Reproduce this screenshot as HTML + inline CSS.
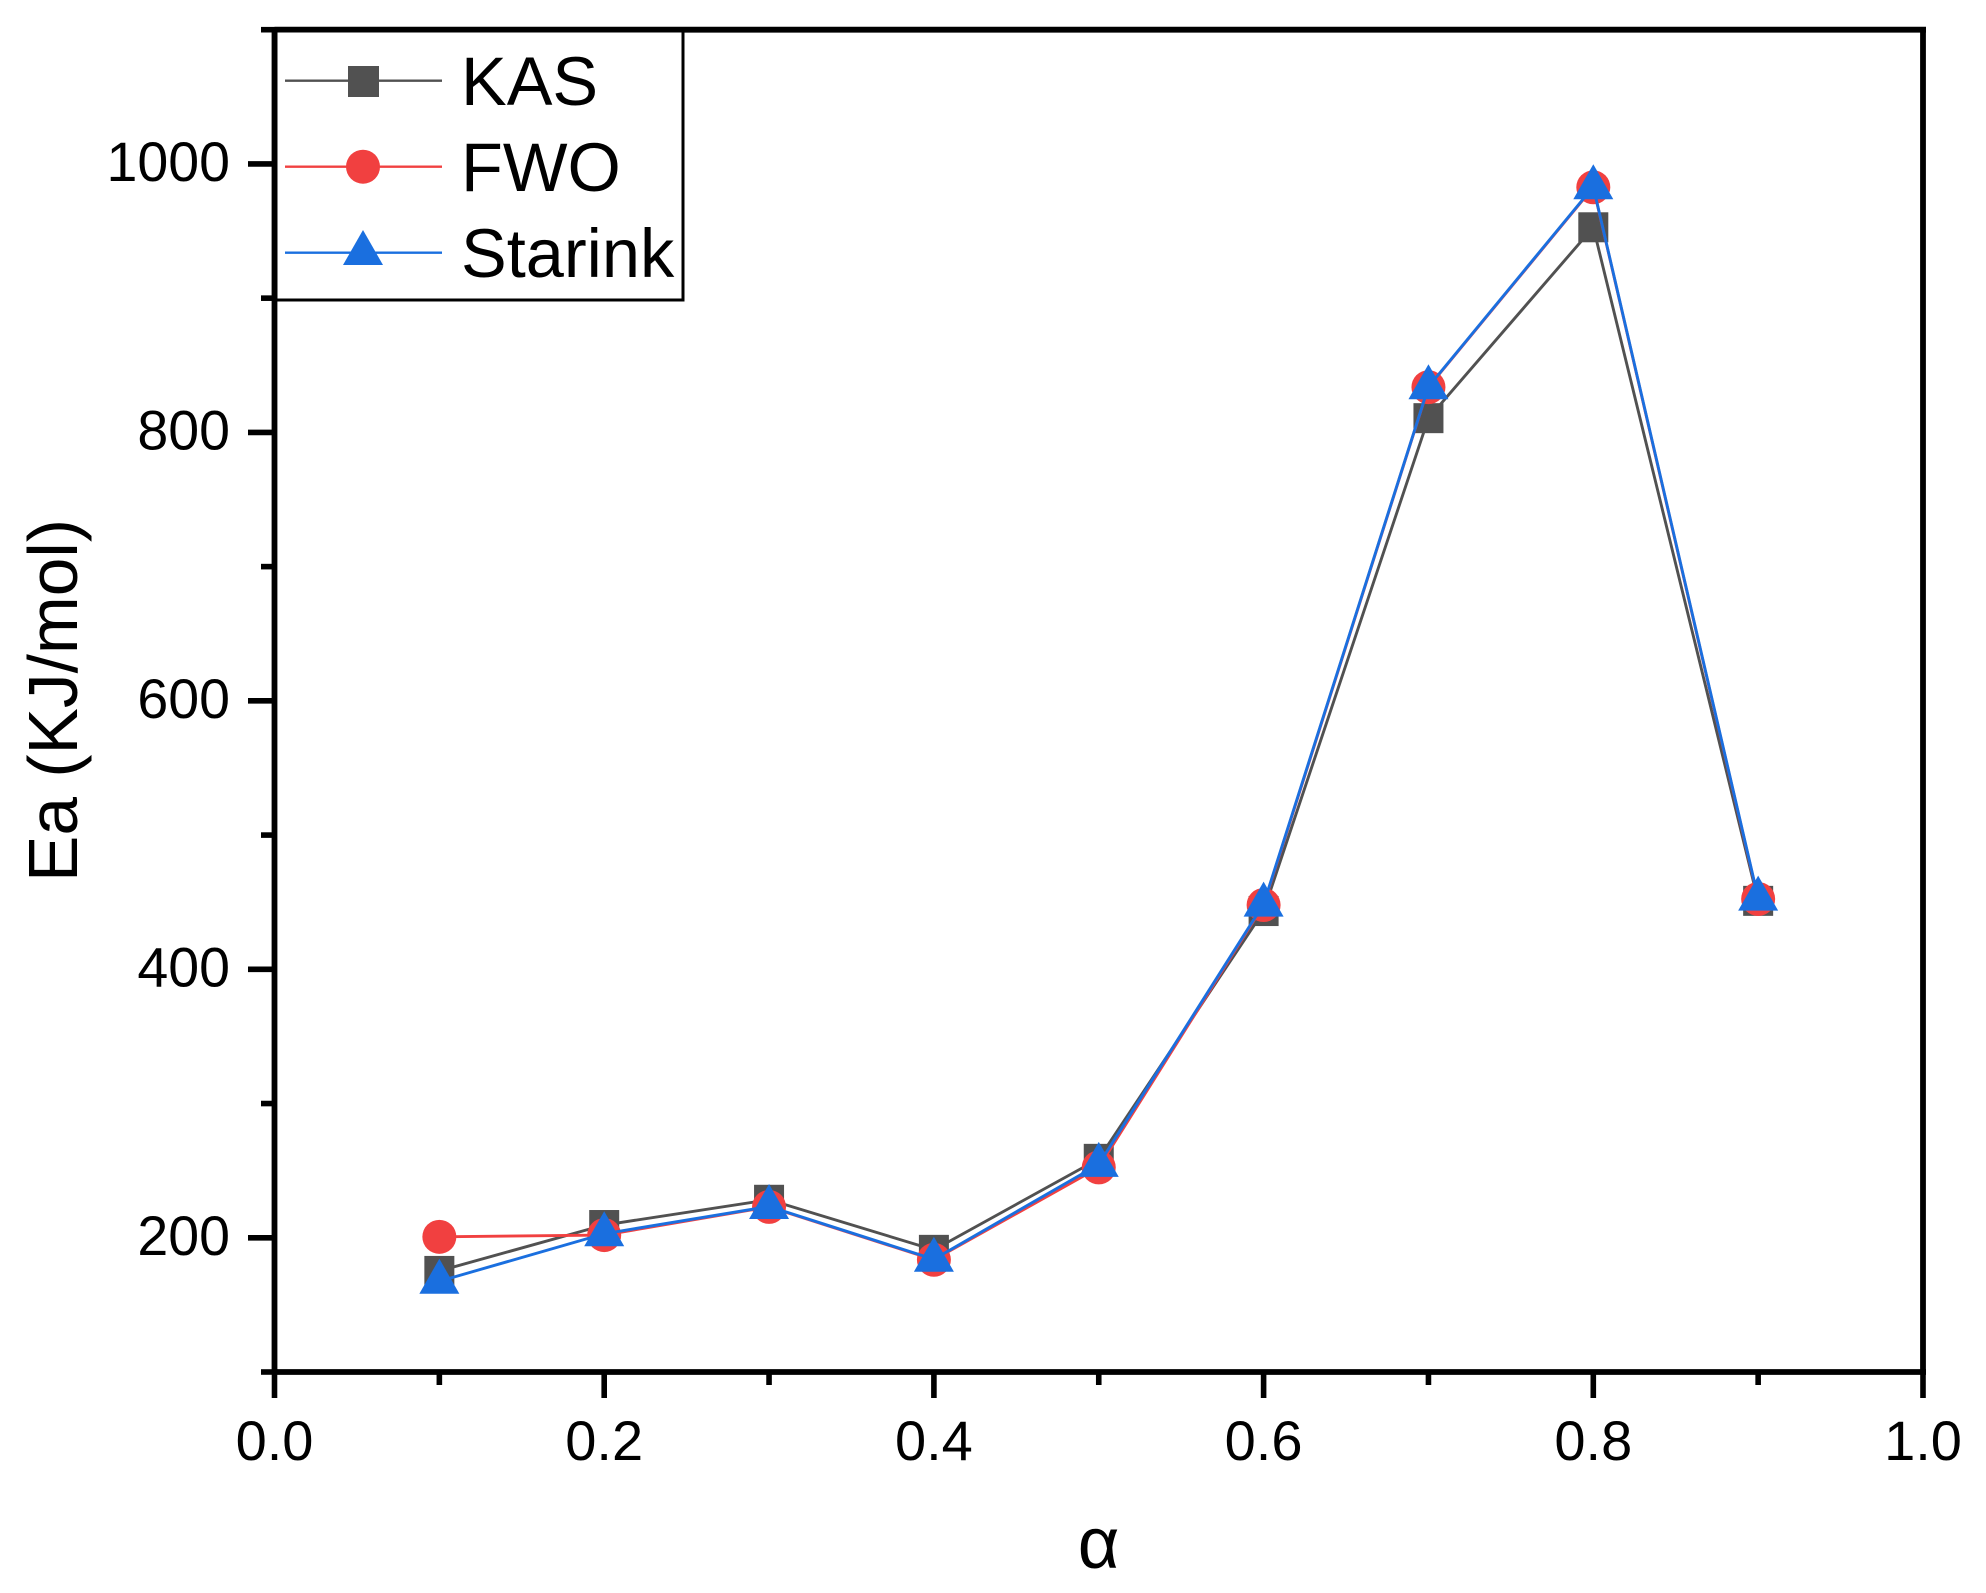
<!DOCTYPE html>
<html lang="en">
<head>
<meta charset="utf-8">
<title>Ea vs conversion</title>
<style>
html,body{margin:0;padding:0;background:#fff;width:1986px;height:1593px;overflow:hidden}
svg{display:block}
text{font-family:"Liberation Sans",sans-serif;fill:#000}
</style>
</head>
<body>
<svg id="chart" xmlns="http://www.w3.org/2000/svg" width="1986" height="1593" viewBox="0 0 1986 1593">
  <rect x="0" y="0" width="1986" height="1593" fill="#fff"/>
  <g id="axes"></g>
  <g id="series"></g>
  <text transform="translate(77,882) rotate(-90)" font-size="69.5">Ea (KJ/mol)</text>
  <text x="1098.5" y="1568" font-size="72" text-anchor="middle">α</text>
  <g>
    <rect x="276" y="31" width="407" height="269" fill="#fff" stroke="#000" stroke-width="3"/>
    <g>
      <line x1="285" x2="442" y1="80.7" y2="80.7" stroke="#515151" stroke-width="2.4"/>
      <rect x="348" y="66" width="31" height="31" fill="#515151"/>
      <text x="461" y="105" font-size="68.5">KAS</text>
    </g>
    <g>
      <line x1="285" x2="442" y1="166.7" y2="166.7" stroke="#F14040" stroke-width="2.4"/>
      <circle cx="363" cy="166.7" r="17" fill="#F14040"/>
      <text x="461" y="191" font-size="68.5">FWO</text>
    </g>
    <g>
      <line x1="285" x2="442" y1="252.7" y2="252.7" stroke="#1A6FDF" stroke-width="2.4"/>
      <polygon points="363,230 383,265 343,265" fill="#1A6FDF"/>
      <text x="461" y="277" font-size="68.5">Starink</text>
    </g>
  </g>
</svg>
<script>
const alphaValues = [0.1, 0.2, 0.3, 0.4, 0.5, 0.6, 0.7, 0.8, 0.9];
const kasValues = [175.3, 209.5, 228.3, 191, 258.8, 443.4, 810.6, 952.8, 451];
const fwoValues = [200.7, 202, 223, 183.6, 252.4, 447.9, 833.7, 982.6, 452.4];
const starinkValues = [167.6, 203, 223.3, 184, 254.7, 448.6, 834, 983, 453];
const xMajorTicks = [0, 0.2, 0.4, 0.6, 0.8, 1];
const xMajorLabels = ['0.0', '0.2', '0.4', '0.6', '0.8', '1.0'];
const xMinorTicks = [0.1, 0.3, 0.5, 0.7, 0.9];
const yMajorTicks = [200, 400, 600, 800, 1000];
const yMajorLabels = ['200', '400', '600', '800', '1000'];
const yMinorTicks = [100, 300, 500, 700, 900, 1100];

const NS = 'http://www.w3.org/2000/svg';
const axesLayer = document.getElementById('axes');
const seriesLayer = document.getElementById('series');
const xAxis = { min: 0, max: 1, left: 274.5, right: 1923 };
const yAxis = { min: 100, max: 1100, bottom: 1372, top: 29.7 };

function xScale(v) {
  return xAxis.left + (v - xAxis.min) / (xAxis.max - xAxis.min) * (xAxis.right - xAxis.left);
}
function yScale(v) {
  return yAxis.bottom - (v - yAxis.min) / (yAxis.max - yAxis.min) * (yAxis.bottom - yAxis.top);
}
function make(tag, attrs, parent) {
  const el = document.createElementNS(NS, tag);
  for (const key in attrs) el.setAttribute(key, attrs[key]);
  parent.appendChild(el);
  return el;
}

function drawAxes() {
  const black = '#000';
  const frame = [
    ['axis-line-left', xAxis.left, yAxis.top, xAxis.left, yAxis.bottom],
    ['axis-line-bottom', xAxis.left, yAxis.bottom, xAxis.right + 3, yAxis.bottom],
    ['axis-line-top', xAxis.left, yAxis.top, xAxis.right + 3, yAxis.top],
    ['axis-line-right', xAxis.right, yAxis.top, xAxis.right, yAxis.bottom]
  ];
  frame.forEach(function (f) {
    const line = make('line', { x1: f[1], y1: f[2], x2: f[3], y2: f[4], stroke: black, 'stroke-width': 5.8 }, axesLayer);
    
    
  });
  xMajorTicks.forEach(function (v, i) {
    const x = xScale(v);
    const tick = make('line', { x1: x, x2: x, y1: yAxis.bottom, y2: 1398, stroke: black, 'stroke-width': 5.6 }, axesLayer);
    
    
    const label = make('text', { x: x, y: 1460, 'font-size': 56, 'text-anchor': 'middle' }, axesLayer);
    label.textContent = xMajorLabels[i];
    
    
  });
  xMinorTicks.forEach(function (v) {
    const x = xScale(v);
    const tick = make('line', { x1: x, x2: x, y1: yAxis.bottom, y2: 1385, stroke: black, 'stroke-width': 5.6 }, axesLayer);
    
    
  });
  yMajorTicks.forEach(function (v, i) {
    const y = yScale(v);
    const tick = make('line', { x1: 248, x2: xAxis.left, y1: y, y2: y, stroke: black, 'stroke-width': 5.6 }, axesLayer);
    
    
    const label = make('text', { x: 230, y: y + 17, 'font-size': 55.5, 'text-anchor': 'end' }, axesLayer);
    label.textContent = yMajorLabels[i];
    
    
  });
  yMinorTicks.forEach(function (v) {
    const y = yScale(v);
    const tick = make('line', { x1: 261, x2: xAxis.left, y1: y, y2: y, stroke: black, 'stroke-width': 5.6 }, axesLayer);
    
    
  });
}

function drawLine(values, color, name) {
  const pts = values.map(function (v, i) { return xScale(alphaValues[i]) + ',' + yScale(v); }).join(' ');
  const line = make('polyline', { points: pts, fill: 'none', stroke: color, 'stroke-width': 2.9, 'stroke-linejoin': 'round' }, seriesLayer);
  
  
}

function drawSquares(values, color, name) {
  values.forEach(function (v, i) {
    const s = 30;
    const m = make('rect', { x: xScale(alphaValues[i]) - s / 2, y: yScale(v) - s / 2, width: s, height: s, fill: color }, seriesLayer);
    
    
  });
}

function drawCircles(values, color, name) {
  values.forEach(function (v, i) {
    const m = make('circle', { cx: xScale(alphaValues[i]), cy: yScale(v), r: 17, fill: color }, seriesLayer);
    
    
  });
}

function drawTriangles(values, color, name) {
  values.forEach(function (v, i) {
    const x = xScale(alphaValues[i]);
    const y = yScale(v);
    const pts = x + ',' + (y - 22.5) + ' ' + (x + 20) + ',' + (y + 12.5) + ' ' + (x - 20) + ',' + (y + 12.5);
    const m = make('polygon', { points: pts, fill: color }, seriesLayer);
    
    
  });
}

drawAxes();
drawLine(kasValues, '#515151', 'kas');
drawSquares(kasValues, '#515151', 'kas');
drawLine(fwoValues, '#F14040', 'fwo');
drawCircles(fwoValues, '#F14040', 'fwo');
drawLine(starinkValues, '#1A6FDF', 'starink');
drawTriangles(starinkValues, '#1A6FDF', 'starink');
</script>
</body>
</html>
